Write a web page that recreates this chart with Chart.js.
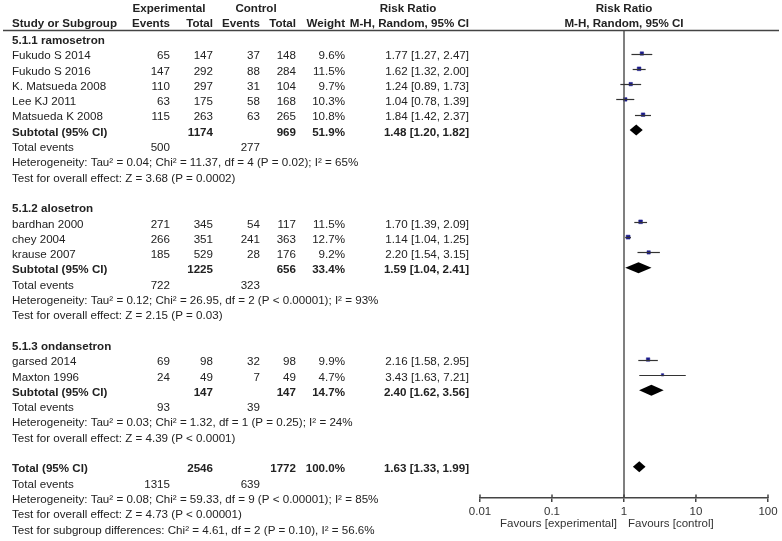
<!DOCTYPE html>
<html>
<head>
<meta charset="utf-8">
<script src="https://cdn.jsdelivr.net/npm/chart.js@4"></script>
<style>
html,body{margin:0;padding:0;background:#fff;}
#wrap{width:782px;height:541px;position:relative;}
</style>
</head>
<body>
<div id="wrap"><canvas id="c" width="782" height="541"></canvas></div>
<script>
// ---------- data ----------
const groupNames = ['5.1.1 ramosetron', '5.1.2 alosetron', '5.1.3 ondansetron'];
const studyNames = ['Fukudo S 2014', 'Fukudo S 2016', 'K. Matsueda 2008', 'Lee KJ 2011', 'Matsueda K 2008',
                    'bardhan 2000', 'chey 2004', 'krause 2007', 'garsed 2014', 'Maxton 1996'];
const studyGroup = [0, 0, 0, 0, 0, 1, 1, 1, 2, 2];
const expEvents = [65, 147, 110, 63, 115, 271, 266, 185, 69, 24];
const expTotal = [147, 292, 297, 175, 263, 345, 351, 529, 98, 49];
const ctrlEvents = [37, 88, 31, 58, 63, 54, 241, 28, 32, 7];
const ctrlTotal = [148, 284, 104, 168, 265, 117, 363, 176, 98, 49];
const weights = [9.6, 11.5, 9.7, 10.3, 10.8, 11.5, 12.7, 9.2, 9.9, 4.7];
const rr = [1.77, 1.62, 1.24, 1.04, 1.84, 1.70, 1.14, 2.20, 2.16, 3.43];
const rrLow = [1.27, 1.32, 0.89, 0.78, 1.42, 1.39, 1.04, 1.54, 1.58, 1.63];
const rrHigh = [2.47, 2.00, 1.73, 1.39, 2.37, 2.09, 1.25, 3.15, 2.95, 7.21];

const subExpTotal = [1174, 1225, 147];
const subCtrlTotal = [969, 656, 147];
const subWeight = [51.9, 33.4, 14.7];
const subRR = [1.48, 1.59, 2.40];
const subLow = [1.20, 1.04, 1.62];
const subHigh = [1.82, 2.41, 3.56];
const subExpEvents = [500, 722, 93];
const subCtrlEvents = [277, 323, 39];
const subHet = [
  'Heterogeneity: Tau² = 0.04; Chi² = 11.37, df = 4 (P = 0.02); I² = 65%',
  'Heterogeneity: Tau² = 0.12; Chi² = 26.95, df = 2 (P < 0.00001); I² = 93%',
  'Heterogeneity: Tau² = 0.03; Chi² = 1.32, df = 1 (P = 0.25); I² = 24%'
];
const subTest = [
  'Test for overall effect: Z = 3.68 (P = 0.0002)',
  'Test for overall effect: Z = 2.15 (P = 0.03)',
  'Test for overall effect: Z = 4.39 (P < 0.0001)'
];

const totExpTotal = 2546, totCtrlTotal = 1772, totWeight = 100.0;
const totRR = 1.63, totLow = 1.33, totHigh = 1.99;
const totExpEvents = 1315, totCtrlEvents = 639;
const totHet = 'Heterogeneity: Tau² = 0.08; Chi² = 59.33, df = 9 (P < 0.00001); I² = 85%';
const totTest = 'Test for overall effect: Z = 4.73 (P < 0.00001)';
const subgroupTest = 'Test for subgroup differences: Chi² = 4.61, df = 2 (P = 0.10), I² = 56.6%';

const axisTicks = [0.01, 0.1, 1, 10, 100];
const axisLabels = ['0.01', '0.1', '1', '10', '100'];
const favoursLeft = 'Favours [experimental]';
const favoursRight = 'Favours [control]';

// ---------- row layout ----------
const rows = [];
const studyRow = [];
const subRow = [];
for (let g = 0; g < groupNames.length; g++) {
  rows.push({kind: 'group', g});
  for (let i = 0; i < studyNames.length; i++) {
    if (studyGroup[i] === g) { studyRow[i] = rows.length; rows.push({kind: 'study', i}); }
  }
  subRow[g] = rows.length; rows.push({kind: 'sub', g});
  rows.push({kind: 'events', a: subExpEvents[g], b: subCtrlEvents[g]});
  rows.push({kind: 'note', t: subHet[g]});
  rows.push({kind: 'note', t: subTest[g]});
  rows.push({kind: 'blank'});
}
const totRow = rows.length; rows.push({kind: 'total'});
rows.push({kind: 'events', a: totExpEvents, b: totCtrlEvents});
rows.push({kind: 'note', t: totHet});
rows.push({kind: 'note', t: totTest});
rows.push({kind: 'note', t: subgroupTest});

const fmt2 = v => v.toFixed(2);
const ciText = (m, l, h) => fmt2(m) + ' [' + fmt2(l) + ', ' + fmt2(h) + ']';

const FONT = "'Liberation Sans', Arial, sans-serif";
const FSIZE = 11.6;
const TXT = '#222';

// ---------- plugin ----------
const forestPlugin = {
  id: 'forest',
  afterDraw(chart) {
    const ctx = chart.ctx;
    const xs = chart.scales.x, ys = chart.scales.y;
    const area = chart.chartArea;
    const X = v => xs.getPixelForValue(v);
    const Y = r => ys.getPixelForValue(r);
    const TY = r => Y(r) + 2.5;
    ctx.save();
    // reference line at 1
    ctx.strokeStyle = '#555'; ctx.lineWidth = 1.5;
    ctx.beginPath(); ctx.moveTo(X(1), area.top); ctx.lineTo(X(1), area.bottom); ctx.stroke();
    // upper part of ticks
    ctx.strokeStyle = '#444'; ctx.lineWidth = 1.5;
    axisTicks.forEach(t => { ctx.beginPath(); ctx.moveTo(X(t), area.bottom - 3.5); ctx.lineTo(X(t), area.bottom); ctx.stroke(); });
    // header rule
    ctx.strokeStyle = '#444'; ctx.lineWidth = 1.5;
    ctx.beginPath(); ctx.moveTo(3, area.top + 0.5); ctx.lineTo(779, area.top + 0.5); ctx.stroke();

    // CI lines
    ctx.strokeStyle = '#333'; ctx.lineWidth = 1.2;
    for (let i = 0; i < studyNames.length; i++) {
      const y = Math.round(Y(studyRow[i])) + 0.5;
      ctx.beginPath(); ctx.moveTo(X(rrLow[i]), y); ctx.lineTo(X(rrHigh[i]), y); ctx.stroke();
    }
    // diamonds
    const diamond = (m, l, h, r, hh) => {
      const y = Y(r);
      ctx.fillStyle = '#000';
      ctx.beginPath();
      ctx.moveTo(X(l), y); ctx.lineTo(X(m), y - hh); ctx.lineTo(X(h), y); ctx.lineTo(X(m), y + hh);
      ctx.closePath(); ctx.fill();
    };
    for (let g = 0; g < groupNames.length; g++) diamond(subRR[g], subLow[g], subHigh[g], subRow[g], 5.5);
    diamond(totRR, totLow, totHigh, totRow, 5.5);

    // text
    ctx.textBaseline = 'middle';
    ctx.fillStyle = TXT;
    const txt = (s, x, y, align, bold, size) => {
      ctx.font = (bold ? 'bold ' : '') + (size || FSIZE) + 'px ' + FONT;
      ctx.textAlign = align;
      ctx.fillText(s, x, y);
    };
    const C = {name: 12, ee: 170, et: 213, ce: 260, ct: 296, w: 345, ci: 469};
    // headers
    txt('Experimental', 169, 9, 'center', true);
    txt('Control', 256, 9, 'center', true);
    txt('Risk Ratio', 408, 9, 'center', true);
    txt('Risk Ratio', X(1), 9, 'center', true);
    txt('Study or Subgroup', C.name, 24, 'left', true);
    txt('Events', C.ee, 24, 'right', true);
    txt('Total', C.et, 24, 'right', true);
    txt('Events', C.ce, 24, 'right', true);
    txt('Total', C.ct, 24, 'right', true);
    txt('Weight', C.w, 24, 'right', true);
    txt('M-H, Random, 95% CI', C.ci, 24, 'right', true);
    txt('M-H, Random, 95% CI', X(1), 24, 'center', true);

    rows.forEach((row, r) => {
      const y = TY(r);
      if (row.kind === 'group') txt(groupNames[row.g], C.name, y, 'left', true);
      else if (row.kind === 'study') {
        const i = row.i;
        txt(studyNames[i], C.name, y, 'left', false);
        txt(String(expEvents[i]), C.ee, y, 'right', false);
        txt(String(expTotal[i]), C.et, y, 'right', false);
        txt(String(ctrlEvents[i]), C.ce, y, 'right', false);
        txt(String(ctrlTotal[i]), C.ct, y, 'right', false);
        txt(weights[i].toFixed(1) + '%', C.w, y, 'right', false);
        txt(ciText(rr[i], rrLow[i], rrHigh[i]), C.ci, y, 'right', false);
      } else if (row.kind === 'sub') {
        const g = row.g;
        txt('Subtotal (95% CI)', C.name, y, 'left', true);
        txt(String(subExpTotal[g]), C.et, y, 'right', true);
        txt(String(subCtrlTotal[g]), C.ct, y, 'right', true);
        txt(subWeight[g].toFixed(1) + '%', C.w, y, 'right', true);
        txt(ciText(subRR[g], subLow[g], subHigh[g]), C.ci, y, 'right', true);
      } else if (row.kind === 'total') {
        txt('Total (95% CI)', C.name, y, 'left', true);
        txt(String(totExpTotal), C.et, y, 'right', true);
        txt(String(totCtrlTotal), C.ct, y, 'right', true);
        txt(totWeight.toFixed(1) + '%', C.w, y, 'right', true);
        txt(ciText(totRR, totLow, totHigh), C.ci, y, 'right', true);
      } else if (row.kind === 'events') {
        txt('Total events', C.name, y, 'left', false);
        txt(String(row.a), C.ee, y, 'right', false);
        txt(String(row.b), C.ce, y, 'right', false);
      } else if (row.kind === 'note') {
        txt(row.t, C.name, y, 'left', false);
      }
    });
    // favours labels
    ctx.fillStyle = '#333';
    txt(favoursLeft, X(1) - 7, 524, 'right', false, 11.5);
    txt(favoursRight, X(1) + 4, 524, 'left', false, 11.5);
    ctx.restore();
  }
};

const points = studyNames.map((n, i) => ({x: rr[i], y: studyRow[i]}));
const radii = weights.map(w => Math.max(1.3, 1.1 * Math.sqrt(w) / 1.414));

new Chart(document.getElementById('c'), {
  type: 'scatter',
  data: {
    datasets: [{
      data: points,
      pointStyle: 'rect',
      pointRadius: radii,
      pointHoverRadius: radii,
      backgroundColor: '#1c1c8c',
      borderColor: '#1c1c8c',
      borderWidth: 0.5
    }]
  },
  options: {
    responsive: false,
    animation: false,
    events: [],
    layout: {padding: {left: 480, right: 14, top: 30, bottom: 0}},
    plugins: {legend: {display: false}, tooltip: {enabled: false}},
    scales: {
      x: {
        type: 'logarithmic',
        min: 0.01, max: 100,
        afterBuildTicks: s => { s.ticks = axisTicks.map(v => ({value: v})); },
        afterFit: s => { s.height = 43; },
        ticks: {
          callback: (v, i) => axisLabels[i],
          autoSkip: false, maxRotation: 0,
          color: '#333', padding: 3,
          font: {family: FONT, size: 11.5}
        },
        grid: {drawOnChartArea: false, tickLength: 4, color: '#444', lineWidth: 1.5},
        border: {color: '#444', width: 1.5}
      },
      y: {
        type: 'linear', display: false, reverse: true,
        min: -0.536, max: 30.05
      }
    }
  },
  plugins: [forestPlugin]
});
</script>
</body>
</html>
